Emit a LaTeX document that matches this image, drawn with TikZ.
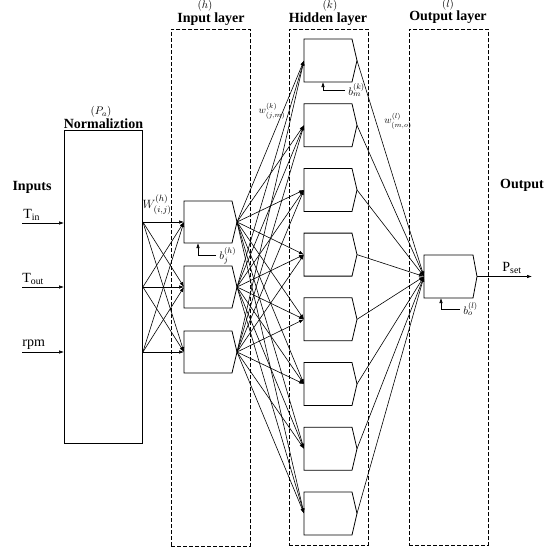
\documentclass[tikz,border=0pt]{standalone}
\usepackage{fontspec}
\setmainfont{Liberation Serif}
\usetikzlibrary{arrows.meta,calc}
\begin{document}
\begin{tikzpicture}[x=1pt,y=-1pt,line width=0.7pt,
  layerbox/.style={draw,dash pattern=on 4pt off 2pt,line width=0.9pt,inner sep=0pt,anchor=north west},
  normbox/.style={draw,line width=0.9pt,inner sep=0pt,anchor=north west},
  unitbox/.style={draw=none,minimum width=48pt,minimum height=43pt,inner sep=0pt,outer sep=0pt},
  unitline/.style={line width=0.8pt},
  conn/.style={-{Latex[length=5pt,width=3.5pt]},line width=0.6pt},
  ttl/.style={font=\fontsize{14}{14}\selectfont\bfseries,inner sep=0pt},
  sup/.style={font=\fontsize{11}{11}\selectfont,inner sep=0pt},
  lbl/.style={font=\fontsize{14}{14}\selectfont,inner sep=0pt},
  wlbl/.style={font=\fontsize{10}{10}\selectfont,inner sep=0pt},
  blbl/.style={font=\fontsize{11}{11}\selectfont,inner sep=0pt,anchor=west}
]
\useasboundingbox (0,0) rectangle (557,547);

% layer boxes
\node[normbox,minimum width=78pt,minimum height=313pt] (norm) at (64,130) {};
\node[layerbox,minimum width=79pt,minimum height=517pt] (inl) at (171,29) {};
\node[layerbox,minimum width=79pt,minimum height=516pt] (hidl) at (289,29) {};
\node[layerbox,minimum width=79pt,minimum height=516pt] (outl) at (409,29) {};

% titles
\node[sup] (tp) at (101,112) {$(P_a)$};
\node[ttl] (tn) at (103.5,124) {Normaliztion};
\node[sup] (th) at (205,6) {$(h)$};
\node[ttl] (ti) at (211,19) {Input layer};
\node[sup] (tk) at (330,6) {$(k)$};
\node[ttl] (thl) at (328,19) {Hidden layer};
\node[sup] (tl) at (448,5) {$(l)$};
\node[ttl] (tol) at (448,17) {Output layer};
\node[ttl] (tin) at (32,187) {Inputs};
\node[ttl] (tout) at (522,185) {Output};

% input units
\foreach \n/\y in {1/222,2/287,3/352}{
  \node[unitbox,minimum height=42pt] (i\n) at (208,\y) {};
  \coordinate (it\n) at ($(i\n.east)+(5,0)$);
  \draw[unitline] (i\n.north west) -- (i\n.north east) -- (it\n) -- (i\n.south east) -- (i\n.south west) -- cycle;
}
% hidden units
\foreach \n in {1,...,8}{
  \pgfmathsetmacro\yy{60.5+(\n-1)*64.71}
  \node[unitbox] (h\n) at (328,\yy) {};
  \coordinate (ht\n) at ($(h\n.east)+(5,0)$);
  \draw[unitline] (h\n.north west) -- (h\n.north east) -- (ht\n) -- (h\n.south east) -- (h\n.south west) -- cycle;
}
% output unit
\node[unitbox,minimum width=49pt] (o) at (448.5,276.5) {};
\coordinate (ot) at ($(o.east)+(4,0)$);
\draw[unitline] (o.north west) -- (o.north east) -- (ot) -- (o.south east) -- (o.south west) -- cycle;

% inputs
\coordinate (x1) at (22,223);
\coordinate (x2) at (22,287);
\coordinate (x3) at (22,352);
\node[lbl,anchor=south west] (lx1) at (23,221) {T\textsubscript{in}};
\node[lbl,anchor=south west] (lx2) at (22,285) {T\textsubscript{out}};
\node[lbl,anchor=south west] (lx3) at (22,350) {rpm};
\foreach \n in {1,2,3}{
  \draw[conn] (x\n) -- (norm.west |- x\n);
}

% normalization -> input layer
\foreach \a in {1,2,3}{
  \foreach \b in {1,2,3}{
    \draw[conn] (norm.east |- i\a) -- (i\b.west);
  }
}
% input -> hidden
\foreach \a in {1,2,3}{
  \foreach \b in {1,...,8}{
    \draw[conn] (it\a) -- (h\b.west);
  }
}
% hidden -> output
\foreach \b in {1,...,8}{
  \draw[conn] (ht\b) -- (o.west);
}
% output
\coordinate (pset) at (532,276.5);
\draw[conn] (ot) -- (pset);
\node[lbl,anchor=south] (lp) at (512,274) {P\textsubscript{set}};

% biases
\coordinate (bh) at (216,255);
\draw[conn] (bh) -| ($(i1.south west)+(14,0)$);
\node[blbl] (lbh) at (219,256) {$b_j^{(h)}$};
\coordinate (bk) at (345,90);
\draw[conn] (bk) -| ($(h1.south west)+(19,0)$);
\node[blbl] (lbk) at (348,90) {$b_m^{(k)}$};
\coordinate (bl) at (460,309);
\draw[conn] (bl) -| ($(o.south west)+(17,0)$);
\node[blbl] (lbl) at (463,309) {$b_o^{(l)}$};

% weight labels
\node[wlbl,font=\fontsize{13}{13}\selectfont] (wh) at (157,205) {$W^{(h)}_{(i,j)}$};
\node[wlbl] (wk) at (272,111) {$w^{(k)}_{(j,m)}$};
\node[wlbl] (wl) at (398,121) {$w^{(l)}_{(m,o)}$};
\end{tikzpicture}
\end{document}
